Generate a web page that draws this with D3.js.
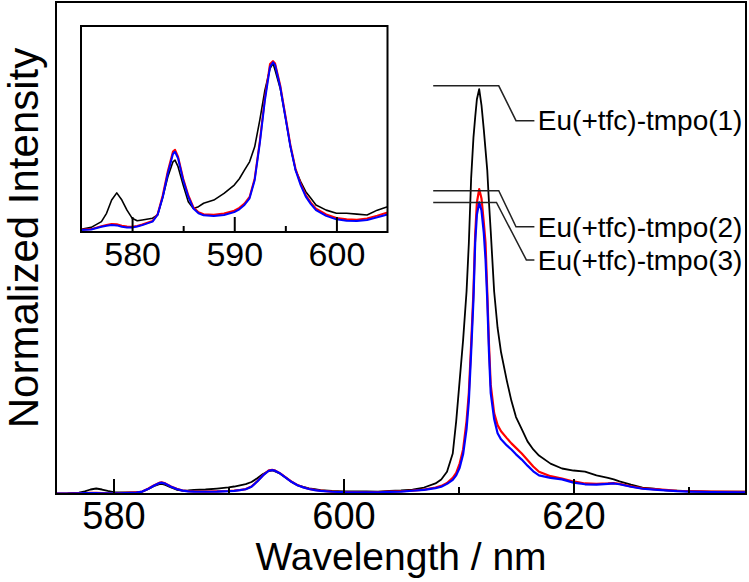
<!DOCTYPE html>
<html>
<head>
<meta charset="utf-8">
<script src="https://cdn.jsdelivr.net/npm/d3@7"></script>
<style>
  body { margin: 0; background: #fff; }
  svg { display: block; font-family: Arial, "Liberation Sans", sans-serif; }
</style>
</head>
<body>
<svg id="chart" width="749" height="582"></svg>
<script>
// wavelength grid (nm)
const wavelength = [575, 576, 577, 577.5, 578, 578.5, 579, 579.5, 580, 580.5, 581, 582, 582.5, 583, 583.5, 584, 584.2, 584.5, 585, 585.5,
  586, 586.5, 587, 588, 589, 590, 590.5, 591, 591.5, 592, 592.5, 593, 593.5, 593.8, 594, 594.5, 595, 595.5, 596, 596.5,
  597, 597.5, 598, 599, 600, 601, 602, 603, 604, 605, 606, 607, 608, 608.5, 609, 609.5, 609.8, 610.1, 610.4, 610.7,
  610.9, 611.1, 611.3, 611.45, 611.6, 611.8, 612, 612.2, 612.35, 612.5, 612.65, 612.8, 613.1, 613.4, 613.7, 614.2, 614.6, 615, 615.5, 616,
  616.5, 617, 618, 619, 620, 621, 622, 623, 623.5, 624, 625, 626, 627, 628, 629, 630, 632, 635];

// normalized intensity (%), Eu(+tfc)-tmpo(1)
const tmpo1 = [0.09, 0.16, 0.36, 0.65, 1.11, 1.36, 1.11, 0.76, 0.48, 0.39, 0.42, 0.48, 0.59, 1.21, 1.92, 2.44, 2.50, 2.27, 1.63, 1.05,
  0.82, 0.88, 1.00, 1.11, 1.34, 1.63, 1.85, 2.15, 2.44, 2.96, 3.89, 4.93, 5.68, 5.86, 5.62, 4.99, 4.00, 2.96, 2.15, 1.75,
  1.40, 1.17, 0.94, 0.76, 0.65, 0.65, 0.62, 0.59, 0.76, 0.88, 1.10, 1.60, 2.60, 3.60, 5.50, 10.0, 18, 28, 38, 50,
  62, 78, 88, 93, 97.5, 100, 96, 90, 85, 80, 72, 65, 50, 41, 35, 28, 23, 19, 16, 13,
  11, 9.5, 7.5, 6.3, 5.8, 5.5, 4.6, 4.0, 3.6, 3.1, 2.3, 1.6, 1.3, 0.9, 0.8, 0.7, 0.6, 0.6];

// Eu(+tfc)-tmpo(2)
const tmpo2 = [0.08, 0.10, 0.20, 0.24, 0.28, 0.27, 0.22, 0.19, 0.18, 0.21, 0.26, 0.38, 0.62, 1.28, 2.12, 2.80, 2.86, 2.62, 1.86, 1.28,
  0.86, 0.69, 0.62, 0.60, 0.64, 0.74, 0.84, 0.99, 1.22, 1.86, 3.15, 4.66, 5.84, 5.94, 5.86, 5.10, 4.06, 3.02, 2.20, 1.68,
  1.28, 1.02, 0.81, 0.61, 0.49, 0.44, 0.43, 0.47, 0.57, 0.68, 0.85, 1.10, 1.60, 2.00, 2.70, 4.0, 5.2, 7.5, 11, 18,
  25, 37, 50, 64, 72, 75.3, 73, 67, 62, 50, 37, 27, 20, 17, 15.5, 13.8, 12.5, 11.4, 10, 8.4,
  6.8, 5.5, 4.4, 3.8, 3.1, 2.6, 2.5, 2.6, 2.7, 2.5, 1.9, 1.4, 1.2, 1.0, 0.8, 0.7, 0.6, 0.5];

// Eu(+tfc)-tmpo(3)
const tmpo3 = [0.07, 0.09, 0.18, 0.22, 0.24, 0.23, 0.18, 0.16, 0.16, 0.19, 0.24, 0.36, 0.60, 1.21, 2.04, 2.71, 2.79, 2.56, 1.80, 1.23,
  0.82, 0.65, 0.58, 0.56, 0.59, 0.69, 0.79, 0.94, 1.17, 1.80, 3.08, 4.58, 5.74, 5.90, 5.80, 5.04, 4.00, 2.96, 2.15, 1.63,
  1.23, 0.97, 0.76, 0.56, 0.44, 0.39, 0.38, 0.42, 0.51, 0.61, 0.80, 1.00, 1.45, 1.80, 2.50, 3.5, 4.6, 6.5, 9.8, 16,
  23, 35, 48, 62, 69, 72, 70, 64.5, 58, 48, 35, 25, 18.5, 15, 13.5, 12, 11, 9.8, 8.5, 7,
  5.6, 4.6, 4.0, 3.6, 2.8, 2.4, 2.3, 2.5, 2.6, 2.4, 1.8, 1.3, 1.1, 0.9, 0.7, 0.6, 0.5, 0.4];

const seriesNames = ["Eu(+tfc)-tmpo(1)", "Eu(+tfc)-tmpo(2)", "Eu(+tfc)-tmpo(3)"];
const seriesColors = ["#000000", "#ff0000", "#0000ff"];
const seriesValues = [tmpo1, tmpo2, tmpo3];

const mainMajorTicks = [580, 600, 620];
const mainMinorTicks = [590, 610, 630];
const insetMajorTicks = [580, 590, 600];
const insetMinorTicks = [585, 595];

const svg = d3.select("#chart");

// main plot
const plot = {left: 56, right: 746, top: 2, bottom: 494};
const x = d3.scaleLinear().domain([575, 635]).range([plot.left, plot.right]);
const y = d3.scaleLinear().domain([0, 121.5]).range([plot.bottom, plot.top]);

svg.append("clipPath").attr("id", "clipMain").append("rect")
    .attr("x", plot.left).attr("y", plot.top)
    .attr("width", plot.right - plot.left).attr("height", plot.bottom - plot.top);

const series = seriesValues.map((vals, i) => ({
    name: seriesNames[i],
    color: seriesColors[i],
    points: wavelength.map((w, j) => [w, vals[j]])
}));

let line = d3.line().x(d => x(d[0])).y(d => y(d[1]));
svg.append("g").attr("clip-path", "url(#clipMain)")
    .selectAll("path").data(series).enter().append("path")
    .attr("d", d => line(d.points))
    .attr("fill", "none")
    .attr("stroke", d => d.color)
    .attr("stroke-width", (d, i) => i == 0 ? 1.8 : 2.2)
    .attr("stroke-linejoin", "round");

// ticks pointing inward
let axMajor = svg.append("g").attr("transform", "translate(0," + plot.bottom + ")")
    .call(d3.axisBottom(x).tickValues(mainMajorTicks).tickSize(-15).tickPadding(8).tickFormat(d3.format("d")));
let axMinor = svg.append("g").attr("transform", "translate(0," + plot.bottom + ")")
    .call(d3.axisBottom(x).tickValues(mainMinorTicks).tickSize(-7).tickFormat(""));
[axMajor, axMinor].forEach(a => {
    a.select(".domain").remove();
    a.selectAll("line").attr("stroke", "#000").attr("stroke-width", 2);
});
axMajor.selectAll("text").attr("font-size", 38).attr("fill", "#000")
    .attr("font-family", "Arial, 'Liberation Sans', sans-serif");

svg.append("rect")
    .attr("x", plot.left).attr("y", plot.top)
    .attr("width", plot.right - plot.left).attr("height", plot.bottom - plot.top)
    .attr("fill", "none").attr("stroke", "#000").attr("stroke-width", 2);

svg.append("text")
    .attr("x", (plot.left + plot.right) / 2).attr("y", 570)
    .attr("text-anchor", "middle").attr("font-size", 39)
    .text("Wavelength / nm");

svg.append("text")
    .attr("transform", "translate(38,238) rotate(-90)")
    .attr("text-anchor", "middle").attr("font-size", 42)
    .text("Normalized Intensity");

// leader lines and labels
const leaders = [
    {level: 100.8, bend: 613.5, end: 615.0, labelLevel: 92.2},
    {level: 74.9, bend: 613.5, end: 615.0, labelLevel: 66.0},
    {level: 72.0, bend: 613.3, end: 615.9, labelLevel: 57.8}
];
leaders.forEach((l, i) => {
    svg.append("polyline")
        .attr("points", [[x(607.8), y(l.level)], [x(l.bend), y(l.level)], [x(l.end), y(l.labelLevel)], [x(616.6), y(l.labelLevel)]]
            .map(p => p.join(",")).join(" "))
        .attr("fill", "none").attr("stroke", "#222").attr("stroke-width", 1.5);
    svg.append("text")
        .attr("x", x(616.9)).attr("y", y(l.labelLevel))
        .attr("dy", "0.35em").attr("font-size", 28)
        .text(series[i].name);
});

// inset
const inset = {left: 81, right: 387.5, top: 26, bottom: 232};
const xi = d3.scaleLinear().domain([575, 605]).range([inset.left, inset.right]);
const yi = d3.scaleLinear().domain([0, 7.16]).range([inset.bottom, inset.top]);

svg.append("rect")
    .attr("x", inset.left).attr("y", inset.top)
    .attr("width", inset.right - inset.left).attr("height", inset.bottom - inset.top)
    .attr("fill", "#fff");

svg.append("clipPath").attr("id", "clipInset").append("rect")
    .attr("x", inset.left).attr("y", inset.top)
    .attr("width", inset.right - inset.left).attr("height", inset.bottom - inset.top);

let lineInset = d3.line().x(d => xi(d[0])).y(d => yi(d[1]));
svg.append("g").attr("clip-path", "url(#clipInset)")
    .selectAll("path").data(series).enter().append("path")
    .attr("d", d => lineInset(d.points.filter(p => p[0] <= 606)))
    .attr("fill", "none")
    .attr("stroke", d => d.color)
    .attr("stroke-width", (d, i) => i == 0 ? 1.6 : 2)
    .attr("stroke-linejoin", "round");

let inMajor = svg.append("g").attr("transform", "translate(0," + inset.bottom + ")")
    .call(d3.axisBottom(xi).tickValues(insetMajorTicks).tickSize(-15).tickPadding(10).tickFormat(d3.format("d")));
let inMinor = svg.append("g").attr("transform", "translate(0," + inset.bottom + ")")
    .call(d3.axisBottom(xi).tickValues(insetMinorTicks).tickSize(-6).tickFormat(""));
[inMajor, inMinor].forEach(a => {
    a.select(".domain").remove();
    a.selectAll("line").attr("stroke", "#000").attr("stroke-width", 2);
});
inMajor.selectAll("text").attr("font-size", 34).attr("fill", "#000")
    .attr("font-family", "Arial, 'Liberation Sans', sans-serif");

svg.append("rect")
    .attr("x", inset.left).attr("y", inset.top)
    .attr("width", inset.right - inset.left).attr("height", inset.bottom - inset.top)
    .attr("fill", "none").attr("stroke", "#000").attr("stroke-width", 2);
</script>
</body>
</html>
